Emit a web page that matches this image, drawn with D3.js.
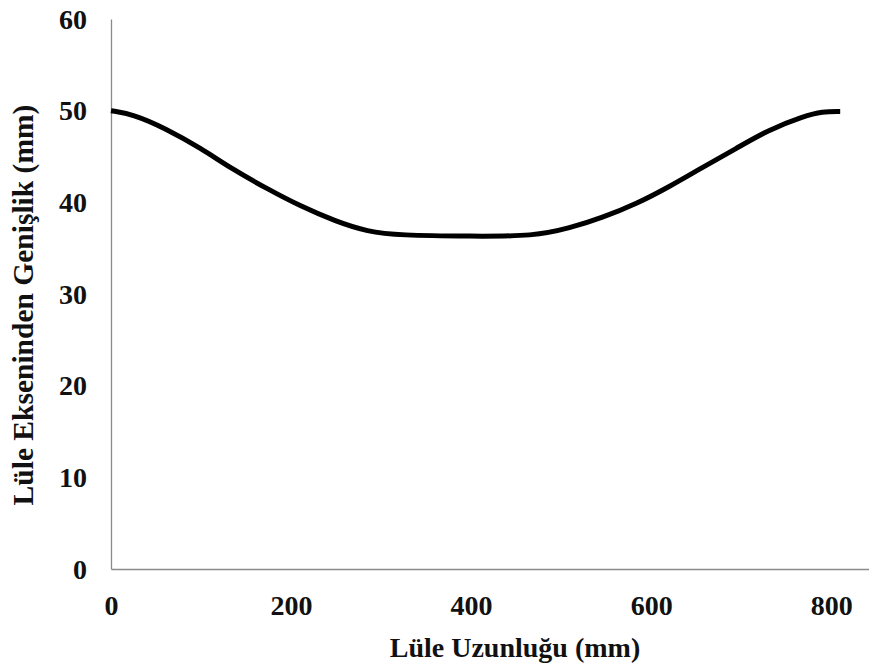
<!DOCTYPE html>
<html>
<head>
<meta charset="utf-8">
<script src="https://d3js.org/d3.v7.min.js"></script>
<style>
  body { margin: 0; background: #fff; }
  text { font-family: "Liberation Serif", "Times New Roman", serif; font-weight: bold; fill: #111; }
</style>
</head>
<body>
<div id="chart"></div>
<script>
// Values
var lengthMm = [0, 25, 60, 100, 135, 175, 210, 250, 285, 320, 400, 470, 510, 545, 585, 620, 655, 695, 730, 770, 790, 810];
var widthMm  = [50, 49.6, 48.1, 45.9, 43.6, 41.4, 39.6, 37.9, 36.8, 36.4, 36.3, 36.3, 37.2, 38.3, 39.9, 41.7, 43.7, 45.9, 47.9, 49.4, 49.9, 49.9];
var xTicks = [0, 200, 400, 600, 800];
var yTicks = [0, 10, 20, 30, 40, 50, 60];
var xTitle = "Lüle Uzunluğu (mm)";
var yTitle = "Lüle Ekseninden Genişlik (mm)";

var margin = {top: 19, right: 0, bottom: 100, left: 111},
    width = 869 - margin.left - margin.right,
    height = 669 - margin.top - margin.bottom;

var svg = d3.select("#chart").append("svg")
    .attr("width", 869)
    .attr("height", 669);

var g = svg.append("g")
    .attr("transform", "translate(" + margin.left + "," + margin.top + ")");

var x = d3.scaleLinear().domain([0, 842]).range([0, width]);
var y = d3.scaleLinear().domain([0, 60]).range([height, 0]);

// X axis
var xAxis = g.append("g")
    .attr("transform", "translate(0," + height + ")")
    .call(d3.axisBottom(x).tickValues(xTicks).tickSize(0).tickPadding(0).tickFormat(d3.format("d")));
xAxis.select(".domain").attr("stroke", "#8a8a8a").attr("stroke-width", 1.3);
xAxis.selectAll("text")
    .attr("dy", null)
    .attr("y", 46)
    .style("font-size", "28px")
    .style("font-family", "Liberation Serif, serif")
    .style("font-weight", "bold");

// Y axis
var yAxis = g.append("g")
    .call(d3.axisLeft(y).tickValues(yTicks).tickSize(0).tickPadding(24).tickFormat(d3.format("d")));
yAxis.select(".domain").attr("stroke", "#8a8a8a").attr("stroke-width", 1.3);
yAxis.selectAll("text")
    .attr("dy", "0.33em")
    .style("font-size", "28px")
    .style("font-family", "Liberation Serif, serif")
    .style("font-weight", "bold");

// Axis titles
svg.append("text")
    .attr("x", 515)
    .attr("y", 657)
    .attr("text-anchor", "middle")
    .style("font-size", "28px")
    .text(xTitle);

svg.append("text")
    .attr("transform", "translate(33," + 305 + ") rotate(-90)")
    .attr("text-anchor", "middle")
    .style("font-size", "29.5px")
    .text(yTitle);

// Curve (smoothed like the original)
var points = lengthMm.map(function(d, i) { return {x: d, y: widthMm[i]}; });
var line = d3.line()
    .x(function(d) { return x(d.x); })
    .y(function(d) { return y(d.y); })
    .curve(d3.curveBasis);

g.append("path")
    .datum(points)
    .attr("fill", "none")
    .attr("stroke", "#000")
    .attr("stroke-width", 5)
    .attr("d", line);
</script>
</body>
</html>
